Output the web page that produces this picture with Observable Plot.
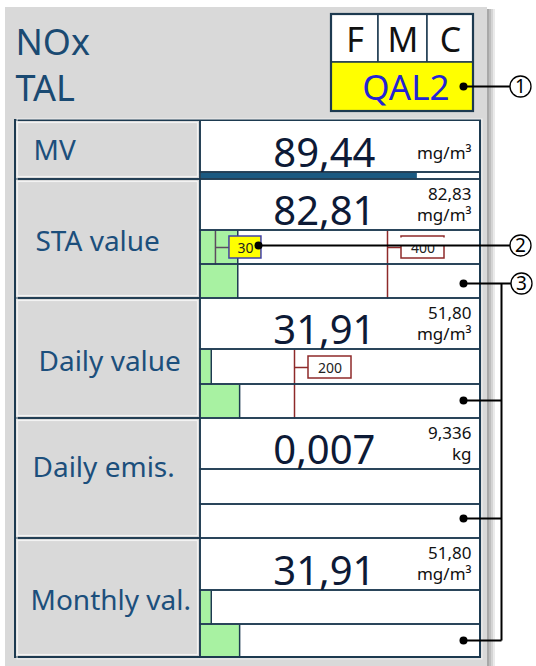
<!DOCTYPE html>
<html>
<head>
<meta charset="utf-8">
<script src="https://cdn.jsdelivr.net/npm/d3@7"></script>
<script src="https://cdn.jsdelivr.net/npm/@observablehq/plot@0.6"></script>
<style>html,body{margin:0;padding:0;background:#fff;overflow:hidden;} #chart svg{display:block;width:536px;height:666px;max-width:none;} svg text{white-space:pre;}</style>
</head>
<body>
<div id="chart"></div>
<script>
// ---------- DATA ----------
const titleLines = ["NOx", "TAL"];
const flagLetters = ["F", "M", "C"];
const statusText = "QAL2";
const rowLabels = ["MV", "STA value", "Daily value", "Daily emis.", "Monthly val."];
const mainValues = ["89,44", "82,81", "31,91", "0,007", "31,91"];
const refValues = ["", "82,83", "51,80", "9,336", "51,80"];
const units = ["mg/m³", "mg/m³", "mg/m³", "kg", "mg/m³"];
const mvValue = 89.44;
const mvFullScale = 115.6;
const stripMax = 600;
const strip1Fill = [null, 78, 21, 0, 21];   // upper bar strip (estimated, 0–600 scale)
const strip2Fill = [null, 78, 82, 0, 82];   // lower bar strip
const markerRows = [1, 1, 2];
const markerValues = [30, 400, 200];
const markerLabels = ["30", "400", "200"];
const markerKinds = ["current", "limit", "limit"];
const calloutNumbers = ["1", "2", "3"];

// ---------- LAYOUT ----------
const W = 536, H = 666;
const dark = "#1d3a50";
const labelBlue = "#1c4f7c";
const gray = "#d9d9d9";
const green = "#a8f2a2";
const limitRed = "#8e2a2a";
const font = "'Noto Sans', sans-serif";
const T = {x1: 15, xs: 200, x2: 480};
const rowEdges = [120, 179, 298, 418, 538, 657];
const valueBoxH = [52, 51, 51, 51, 52];
const labelPos = [[33, 159], [35, 250], [38, 370], [32, 476], [30, 609]];

const sx = Plot.scale({x: {domain: [0, stripMax], range: [T.xs + 1, T.x2]}});
const mvx = Plot.scale({x: {domain: [0, mvFullScale], range: [T.xs + 1, T.x2]}});

const rows = rowLabels.map((label, i) => {
  const top = rowEdges[i], bottom = rowEdges[i + 1];
  const vb = top + valueBoxH[i];
  const mid = i === 0 ? bottom : Math.round((vb + bottom) / 2);
  return {i, label, top, bottom, vb, mid,
    value: mainValues[i], ref: refValues[i], unit: units[i],
    s1: strip1Fill[i], s2: strip2Fill[i],
    lx: labelPos[i][0], ly: labelPos[i][1],
    vx: 375, vy: vb - 6, rx: 471, ry: top + 20, uy: i === 0 ? top + 38 : top + 41};
});

const fillRects = [];
const strokeRects = [];
const lines = [];
// panel + shadow
fillRects.push({x1: 5, x2: 487, y1: 7, y2: H, f: gray});
[["#a8a8a8", 487, 489], ["#bdbdbd", 489, 491], ["#d4d4d4", 491, 493], ["#eaeaea", 493, 495]]
  .forEach(([f, a, b]) => fillRects.push({x1: a, x2: b, y1: 9, y2: H, f}));

rows.forEach(r => {
  fillRects.push({x1: T.x1, x2: T.xs, y1: r.top, y2: r.bottom, f: gray});
  strokeRects.push({x1: T.x1 + 2.5, x2: T.xs - 2.5, y1: r.top + 2.5, y2: r.bottom - 2.5, s: "#f3f3f3", w: 1.2});
  fillRects.push({x1: T.xs, x2: T.x2, y1: r.top, y2: r.bottom, f: "#ffffff"});
  if (r.i === 0) {
    fillRects.push({x1: mvx.apply(0), x2: mvx.apply(mvValue), y1: r.vb + 0.5, y2: r.bottom - 0.5, f: "#1b5a82"});
  } else {
    if (r.s1 > 0) {
      fillRects.push({x1: sx.apply(0), x2: sx.apply(r.s1), y1: r.vb + 1, y2: r.mid - 1, f: green});
      lines.push({x1: sx.apply(r.s1), x2: sx.apply(r.s1), y1: r.vb, y2: r.mid, s: dark});
    }
    if (r.s2 > 0) {
      fillRects.push({x1: sx.apply(0), x2: sx.apply(r.s2), y1: r.mid + 1, y2: r.bottom - 1, f: green});
      lines.push({x1: sx.apply(r.s2), x2: sx.apply(r.s2), y1: r.mid, y2: r.bottom, s: dark});
    }
  }
  strokeRects.push({x1: T.xs, x2: T.x2, y1: r.top, y2: r.vb, s: dark, w: 1.5});
  strokeRects.push({x1: T.xs, x2: T.x2, y1: r.vb, y2: r.mid, s: dark, w: 1.5});
  if (r.i > 0) strokeRects.push({x1: T.xs, x2: T.x2, y1: r.mid, y2: r.bottom, s: dark, w: 1.5});
  strokeRects.push({x1: T.x1, x2: T.xs, y1: r.top, y2: r.bottom, s: dark, w: 1.6});
});
strokeRects.push({x1: T.x1, x2: T.x2, y1: rowEdges[0], y2: rowEdges[5], s: dark, w: 2});
strokeRects.push({x1: T.x1 + 2, x2: T.x2 + 2, y1: rowEdges[0] - 1, y2: rowEdges[5] + 2, s: "#f0f0f0", w: 1});

// markers
const markerBoxes = [];
markerValues.forEach((v, k) => {
  const r = rows[markerRows[k]];
  const mx = sx.apply(v);
  const cy = Math.round((r.vb + r.mid) / 2);
  const current = markerKinds[k] === "current";
  const col = current ? "#5d4b60" : limitRed;
  lines.push({x1: mx, x2: mx, y1: r.vb, y2: current ? r.mid : r.bottom, s: col});
  lines.push({x1: mx, x2: mx + 14, y1: cy, y2: cy, s: col});
  const bw = 10 + 11 * markerLabels[k].length;
  markerBoxes.push({x1: mx + 14, x2: mx + 14 + bw, y1: cy - 11, y2: cy + 11,
    f: current ? "#ffff00" : "#ffffff", s: current ? "#4040a8" : limitRed,
    tx: mx + 14 + bw / 2, ty: cy + 5, text: markerLabels[k]});
});

// callouts
const callouts = [
  {n: calloutNumbers[0], cx: 520, cy: 86, dots: [[463, 86]]},
  {n: calloutNumbers[1], cx: 520, cy: 245, dots: [[258, 245]]},
  {n: calloutNumbers[2], cx: 521, cy: 283, dots: [[463, 283], [463, 400], [463, 518], [463, 640]]}
];
const callLines = [];
const callDots = [];
callouts.forEach((c, k) => {
  callLines.push({x1: c.dots[0][0], y1: c.cy, x2: c.cx - 10, y2: c.cy});
  c.dots.forEach(d => callDots.push({x: d[0], y: d[1]}));
  if (k === 2) {
    callLines.push({x1: 501, y1: c.cy, x2: 501, y2: c.dots[c.dots.length - 1][1]});
    c.dots.slice(1).forEach(d => callLines.push({x1: d[0], y1: d[1], x2: 501, y2: d[1]}));
  }
});

// header
const titles = titleLines.map((t, k) => ({text: t, x: 15, y: 54 + k * 46}));
const box = {x1: 331, x2: 473, y1: 14, ymid: 62, y2: 111};
const colEdges = [331, 378, 427, 473];
const flagCells = flagLetters.map((t, k) => ({x1: colEdges[k], x2: colEdges[k + 1], y1: box.y1, y2: box.ymid,
  tx: (colEdges[k] + colEdges[k + 1]) / 2, ty: 51, text: t}));
const status = [{text: statusText, x: 449, y: 99}];

const chart = Plot.plot({
  width: W, height: H, margin: 0,
  x: {type: "identity"}, y: {type: "identity"}, color: {type: "identity"},
  style: {fontFamily: font, background: "#ffffff"},
  marks: [
    Plot.rect(fillRects, {x1: "x1", x2: "x2", y1: "y1", y2: "y2", fill: "f"}),
    Plot.link(lines, {x1: "x1", x2: "x2", y1: "y1", y2: "y2", stroke: "s", strokeWidth: 1.5}),
    Plot.rect(strokeRects, {x1: "x1", x2: "x2", y1: "y1", y2: "y2", fill: "none", stroke: "s", strokeWidth: d => d.w}),
    Plot.rect(markerBoxes, {x1: "x1", x2: "x2", y1: "y1", y2: "y2", fill: "f", stroke: "s", strokeWidth: 1.5}),
    Plot.text(markerBoxes, {x: "tx", y: "ty", text: "text", fontSize: 14, fill: "#222", textAnchor: "middle", lineAnchor: "bottom", fontFamily: font}),
    // white halo under callout 2 line (covers the 400 label top)
    Plot.rect([{x1: 391, x2: 478, y1: 237.5, y2: 246}], {x1: "x1", x2: "x2", y1: "y1", y2: "y2", fill: "#ffffff"}),
    // titles
    Plot.text(titles, {x: "x", y: "y", text: "text", fontSize: 36, fill: "#1a4a72", textAnchor: "start", lineAnchor: "bottom", fontFamily: font}),
    // FMC box
    Plot.rect(flagCells, {x1: "x1", x2: "x2", y1: "y1", y2: "y2", fill: "#ffffff", stroke: dark, strokeWidth: 1.5}),
    Plot.rect([box], {x1: "x1", x2: "x2", y1: "ymid", y2: "y2", fill: "#ffff00", stroke: dark, strokeWidth: 1.5}),
    Plot.rect([box], {x1: "x1", x2: "x2", y1: "y1", y2: "y2", fill: "none", stroke: dark, strokeWidth: 2.2}),
    Plot.text(flagCells, {x: "tx", y: "ty", text: "text", fontSize: 34, fill: "#111", textAnchor: "middle", lineAnchor: "bottom", fontFamily: font}),
    Plot.text(status, {x: "x", y: "y", text: "text", fontSize: 35, fill: "#2424d4", textAnchor: "end", lineAnchor: "bottom", fontFamily: font}),
    // row labels
    Plot.text(rows, {x: "lx", y: "ly", text: "label", fontSize: 28, fill: labelBlue, textAnchor: "start", lineAnchor: "bottom", fontFamily: font}),
    // values
    Plot.text(rows, {x: "vx", y: "vy", text: "value", fontSize: 40, fill: "#0d1a36", textAnchor: "end", lineAnchor: "bottom", fontFamily: font}),
    Plot.text(rows.filter(d => d.ref), {x: "rx", y: "ry", text: "ref", fontSize: 17, fill: "#111", textAnchor: "end", lineAnchor: "bottom", fontFamily: font}),
    Plot.text(rows, {x: "rx", y: "uy", text: "unit", fontSize: 17, fill: "#111", textAnchor: "end", lineAnchor: "bottom", fontFamily: font}),
    // callouts
    Plot.link(callLines, {x1: "x1", x2: "x2", y1: "y1", y2: "y2", stroke: "#000", strokeWidth: 2}),
    Plot.dot(callDots, {x: "x", y: "y", r: 4, fill: "#000"}),
    Plot.dot(callouts, {x: "cx", y: "cy", r: 10.5, fill: "#fff", stroke: "#000", strokeWidth: 1.3}),
    Plot.text(callouts, {x: "cx", y: "cy", text: "n", fontSize: 19, fill: "#000", textAnchor: "middle", lineAnchor: "middle", fontFamily: font})
  ]
});

// express each text's translate() as explicit x/y attributes
chart.querySelectorAll("text").forEach(t => {
  const tr = t.getAttribute("transform");
  const m = tr && tr.match(/^translate\(([-\d.e]+),\s*([-\d.e]+)\)$/);
  if (!m) return;
  const yOff = t.getAttribute("y");
  t.removeAttribute("transform");
  t.setAttribute("x", m[1]);
  t.setAttribute("y", m[2]);
  if (yOff) t.setAttribute("dy", yOff);
});
// move Plot's embedded stylesheet into the document head
chart.querySelectorAll("style").forEach(s => document.head.appendChild(s));
document.getElementById("chart").appendChild(chart);
</script>
</body>
</html>
